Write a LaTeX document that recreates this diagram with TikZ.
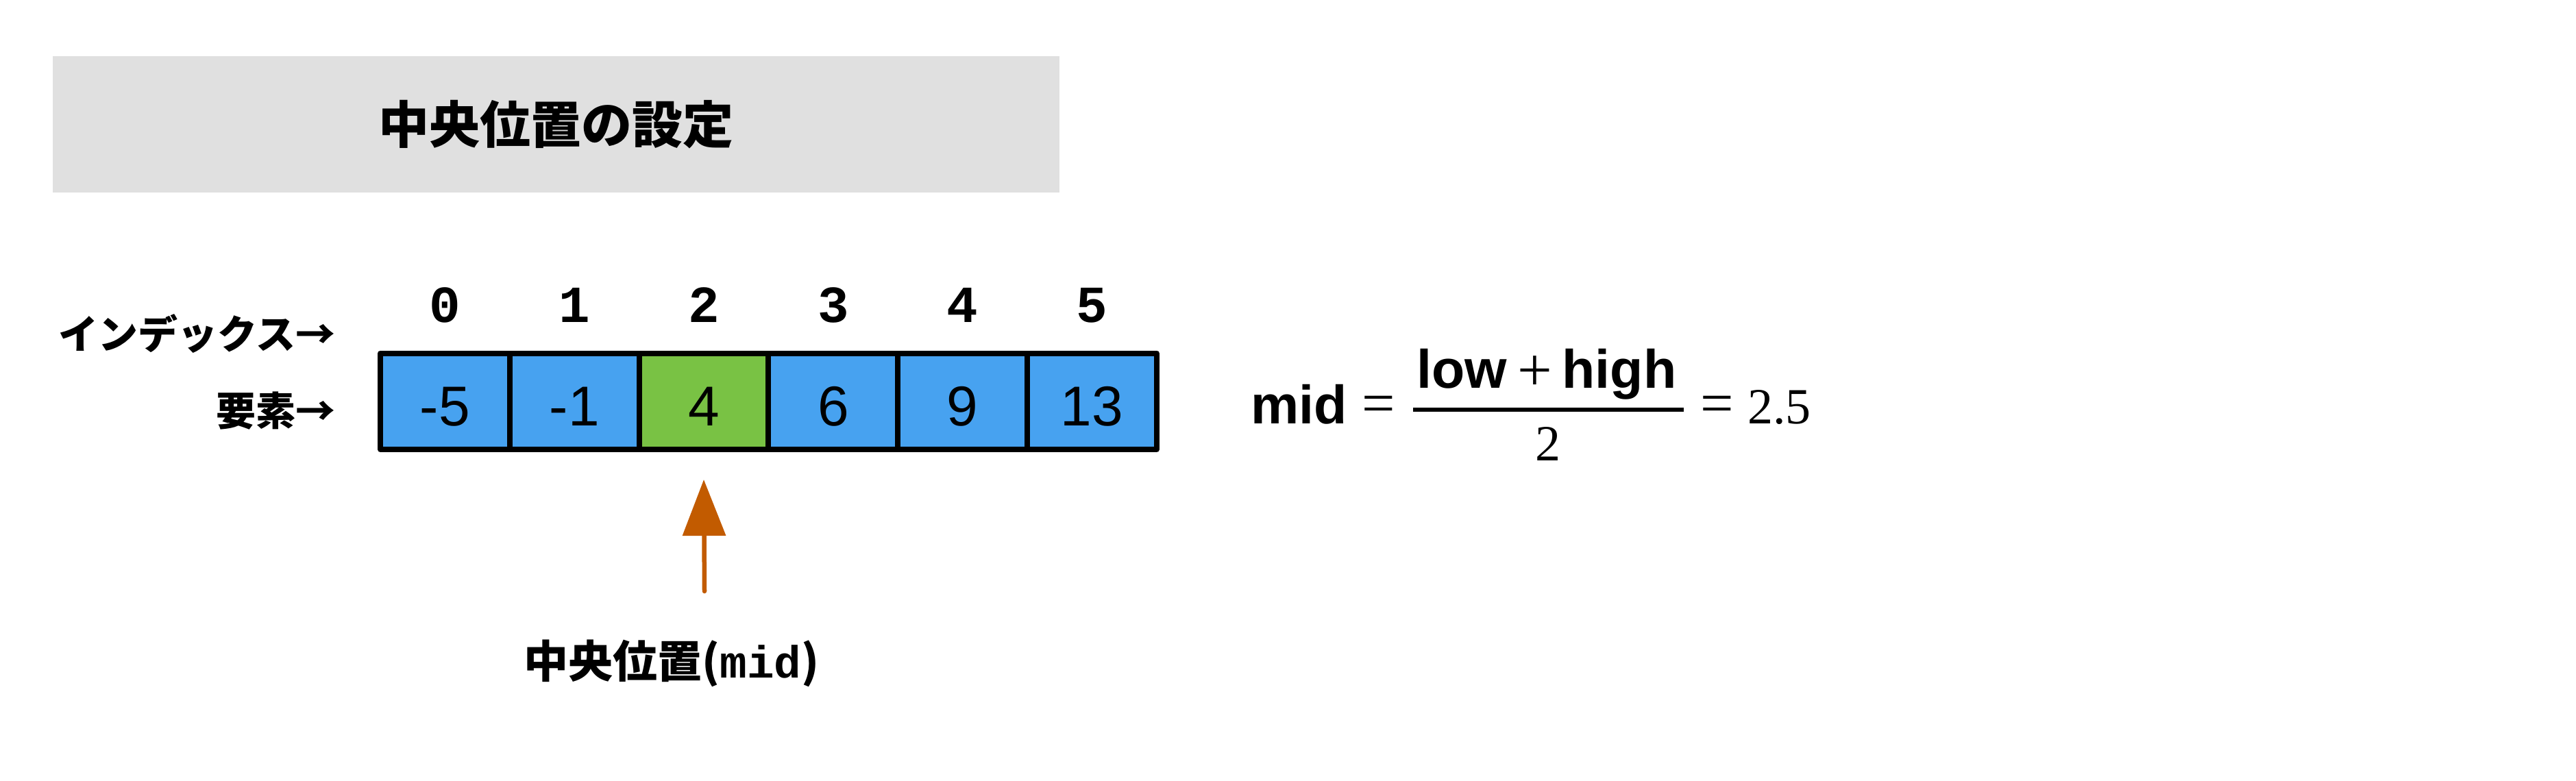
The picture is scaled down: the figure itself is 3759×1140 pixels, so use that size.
\documentclass[tikz,border=0pt]{standalone}
\usepackage{fontspec}
\setmainfont{Liberation Serif}
\setsansfont{Liberation Sans}
\newfontfamily\cjk{Noto Sans CJK JP}
\newfontfamily\monof{Liberation Mono}
\usetikzlibrary{arrows.meta}
\definecolor{cellblue}{HTML}{47A2F0}
\definecolor{cellgreen}{HTML}{79C244}
\definecolor{titlegray}{HTML}{E0E0E0}
\definecolor{arroworange}{HTML}{C25B00}
\newcommand\fsz[1]{\fontsize{#1}{#1}\selectfont}
\begin{document}
\begin{tikzpicture}[x=1pt,y=-1pt,
  cell/.style={draw=black, line width=8pt, minimum width=188.8pt, minimum height=140.5pt, inner sep=0pt, line join=round},
  val/.style={anchor=base, font=\sffamily\fsz{82}, inner sep=0pt},
  idx/.style={anchor=base, font=\monof\bfseries\fsz{76}, inner sep=0pt},
  lbl/.style={anchor=east, font=\cjk\bfseries\fsz{58}, inner sep=0pt},
  ftxt/.style={inner sep=0pt},
]
\useasboundingbox (0,0) rectangle (3759,1140);

% title
\node[fill=titlegray, minimum width=1469pt, minimum height=199pt, inner sep=0pt,
      font=\cjk\bfseries\fsz{74}] (title) at (811.5,181.5) {中央位置の設定};

% row labels
\node[lbl] (idxlbl) at (490,487) {インデックス→};
\node[lbl] (vallbl) at (490,600) {要素→};

% cells
\foreach \i/\v/\c in {0/-5/cellblue,1/-1/cellblue,2/4/cellgreen,3/6/cellblue,4/9/cellblue,5/13/cellblue}{
  \node[cell, fill=\c] (c\i) at ({555+(\i+0.5)*188.8},585.75) {};
  \node[val] (v\i) at ({555+(\i+0.5)*188.8},621) {\v};
  \node[idx] (i\i) at ({555+(\i+0.5)*188.8},470) {\i};
}

% arrow and label
\coordinate (arrtail) at (1028,863);
\draw[arroworange, line width=6.5pt, line cap=round, -{Triangle[length=82pt,width=62pt]}]
  (arrtail) -- ([yshift=-40pt]c2.south);
\node[inner sep=0pt, font=\cjk\bfseries\fsz{65}] (midlbl) at (980,968)
  {中央位置(\monof\bfseries\fsz{66}mid\cjk\bfseries\fsz{65})};

% formula
\node[ftxt, anchor=base west, font=\sffamily\bfseries\fsz{79}] (fmid) at (1825,618) {mid};
\node[ftxt, font=\rmfamily\fsz{86}] (feq1) at (2012,598) {=};
\node[ftxt, anchor=base west, font=\fsz{79}] (fnum) at (2067,566)
  {\sffamily\bfseries low\hspace{16pt}\raisebox{-4pt}{\rmfamily\mdseries\fsz{90}+}\hspace{14pt}\sffamily\bfseries high};
\draw[line width=5.7pt] (2062,598) -- (2457,598);
\node[ftxt, anchor=base, font=\rmfamily\fsz{74}] (fden) at (2259,672) {2};
\node[ftxt, font=\rmfamily\fsz{86}] (feq2) at (2506,598) {=};
\node[ftxt, anchor=base west, font=\rmfamily\fsz{74}] (fres) at (2550,618) {2.5};
\end{tikzpicture}
\end{document}
